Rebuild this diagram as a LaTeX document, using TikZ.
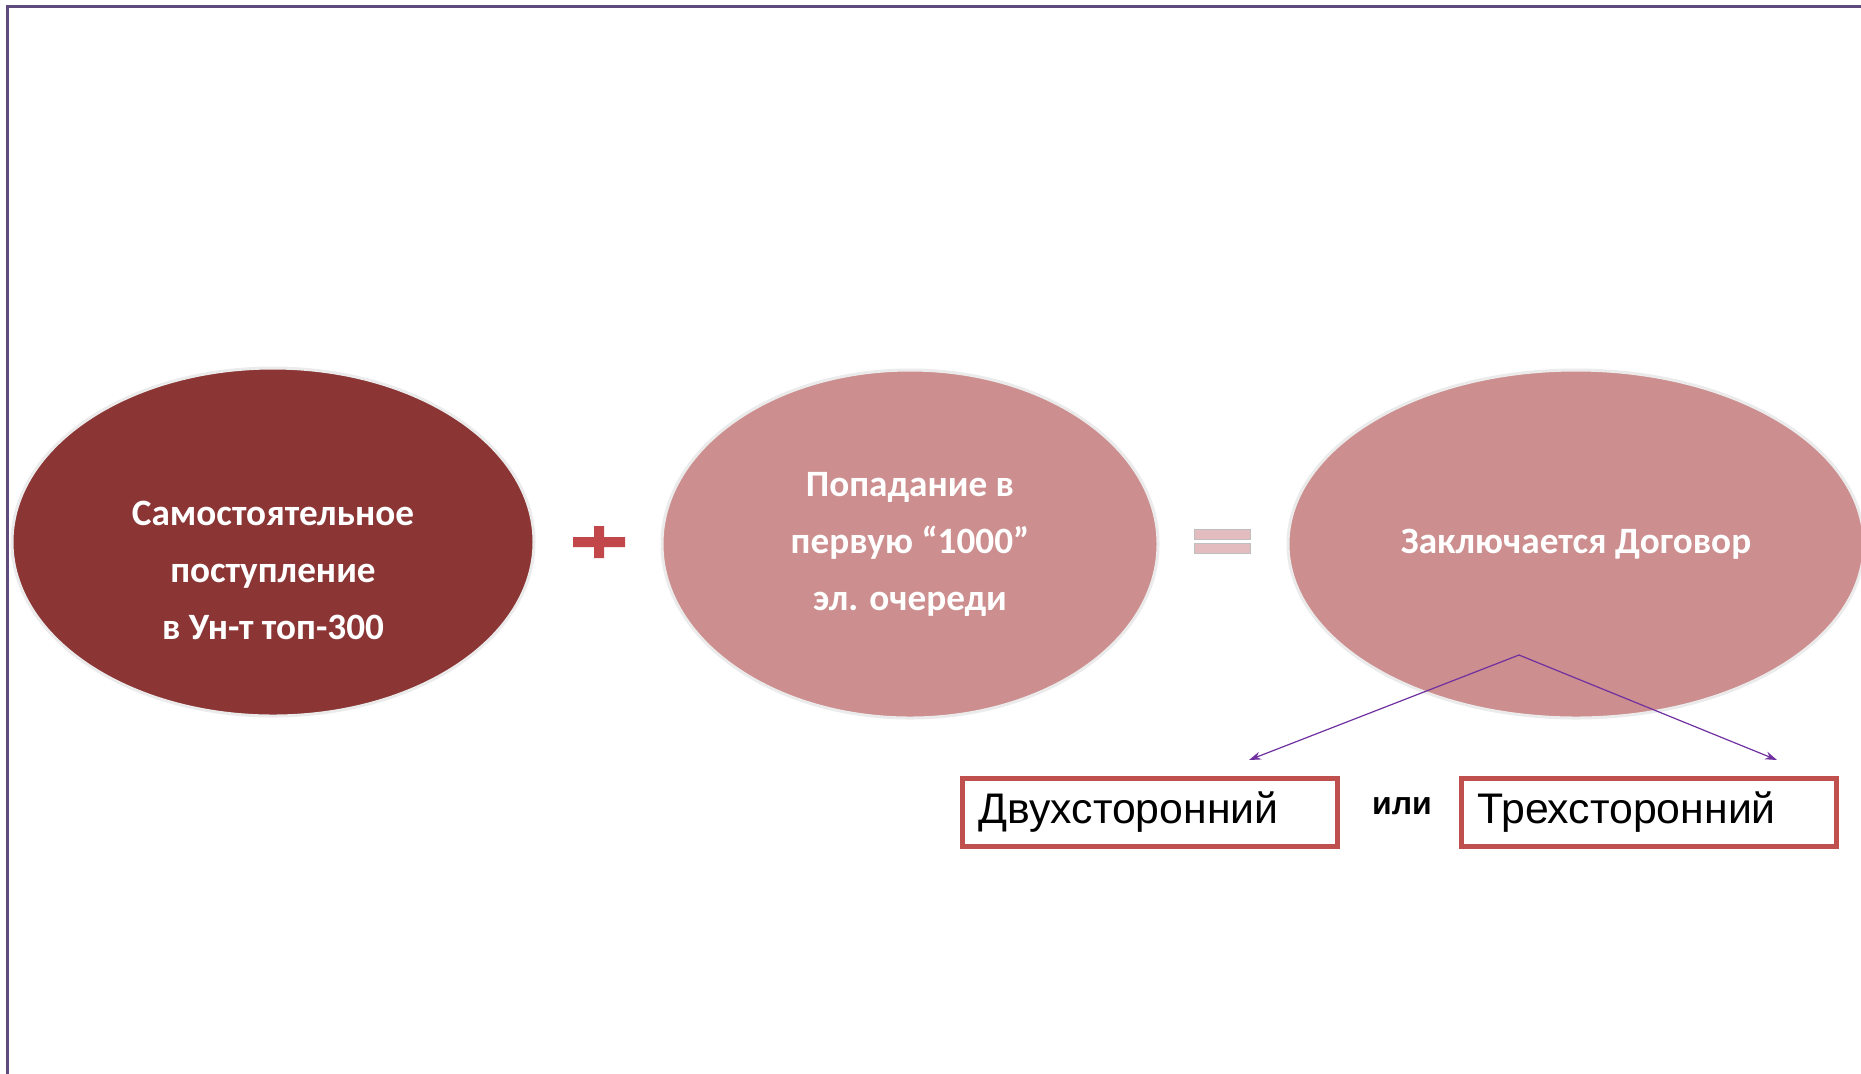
\documentclass[tikz,border=0pt]{standalone}
\usepackage{fontspec}
\setmainfont{Carlito}
\newfontfamily\arialfont{Liberation Sans}
\usetikzlibrary{shapes.geometric,arrows.meta}
\definecolor{framepurple}{HTML}{5F4B7E}
\definecolor{darkrose}{HTML}{8B3535}
\definecolor{lightrose}{HTML}{CC8E8E}
\definecolor{boxred}{HTML}{C0504D}
\definecolor{plusred}{HTML}{C2474B}
\definecolor{eqpink}{HTML}{E3BCC0}
\definecolor{linkpurple}{HTML}{7030A0}
\begin{document}
\begin{tikzpicture}
[
   x=0.5pt,y=-0.5pt,
   oval/.style={ellipse,draw=white!92!black,line width=1.5pt,fill=lightrose,minimum height=174pt,inner sep=0pt},
   ovaltext/.style={text=white,font=\bfseries\fontsize{18.6}{28.5}\selectfont,align=center},
   choice/.style={draw=boxred,line width=2.5pt,minimum height=34pt,text width=171.5pt,inner xsep=8pt,align=left,font=\arialfont\fontsize{21.4}{25}\selectfont},
   link/.style={-{Stealth[length=6pt,width=4pt]},draw=linkpurple,line width=0.6pt}
]
\useasboundingbox (0,0) rectangle (1861,1073);
\clip (0,0) rectangle (1861,1073);
\draw[framepurple,line width=1.5pt] (7,1080) -- (7,6) -- (1870,6);

% the three ovals
\node[oval,fill=darkrose,minimum width=261pt] (self) at (273,542) {};
\node[ovaltext] (selftext) at ([yshift=-14pt]self.center) {Самостоятельное\\поступление\\в Ун-т топ-300};
\node[oval,minimum width=248pt,ovaltext] (queue) at (910,544) {Попадание в\\первую “1000”\\эл. очереди};
\node[oval,minimum width=288pt,ovaltext] (deal) at (1576,544) {Заключается Договор};

% plus and equals
\fill[plusred] (573,537) rectangle (625,547) (594,526) rectangle (604,558);
\fill[eqpink,draw=black!25,line width=0.3pt] (1194,529) rectangle (1250,539) (1194,543) rectangle (1250,553);

% the two kinds of contract
\node[choice] (two) at (1150,812) {Двухсторонний};
\node[font=\arialfont\bfseries\fontsize{16}{19}\selectfont] (or) at (1402,806) {или};
\node[choice] (three) at (1649,812) {Трехсторонний};

\coordinate (split) at (1519,655);
\coordinate (twoend) at (1249,760);
\coordinate (threeend) at (1777,760);
\draw[link] (split) -- (twoend);
\draw[link] (split) -- (threeend);
\end{tikzpicture}
\end{document}
